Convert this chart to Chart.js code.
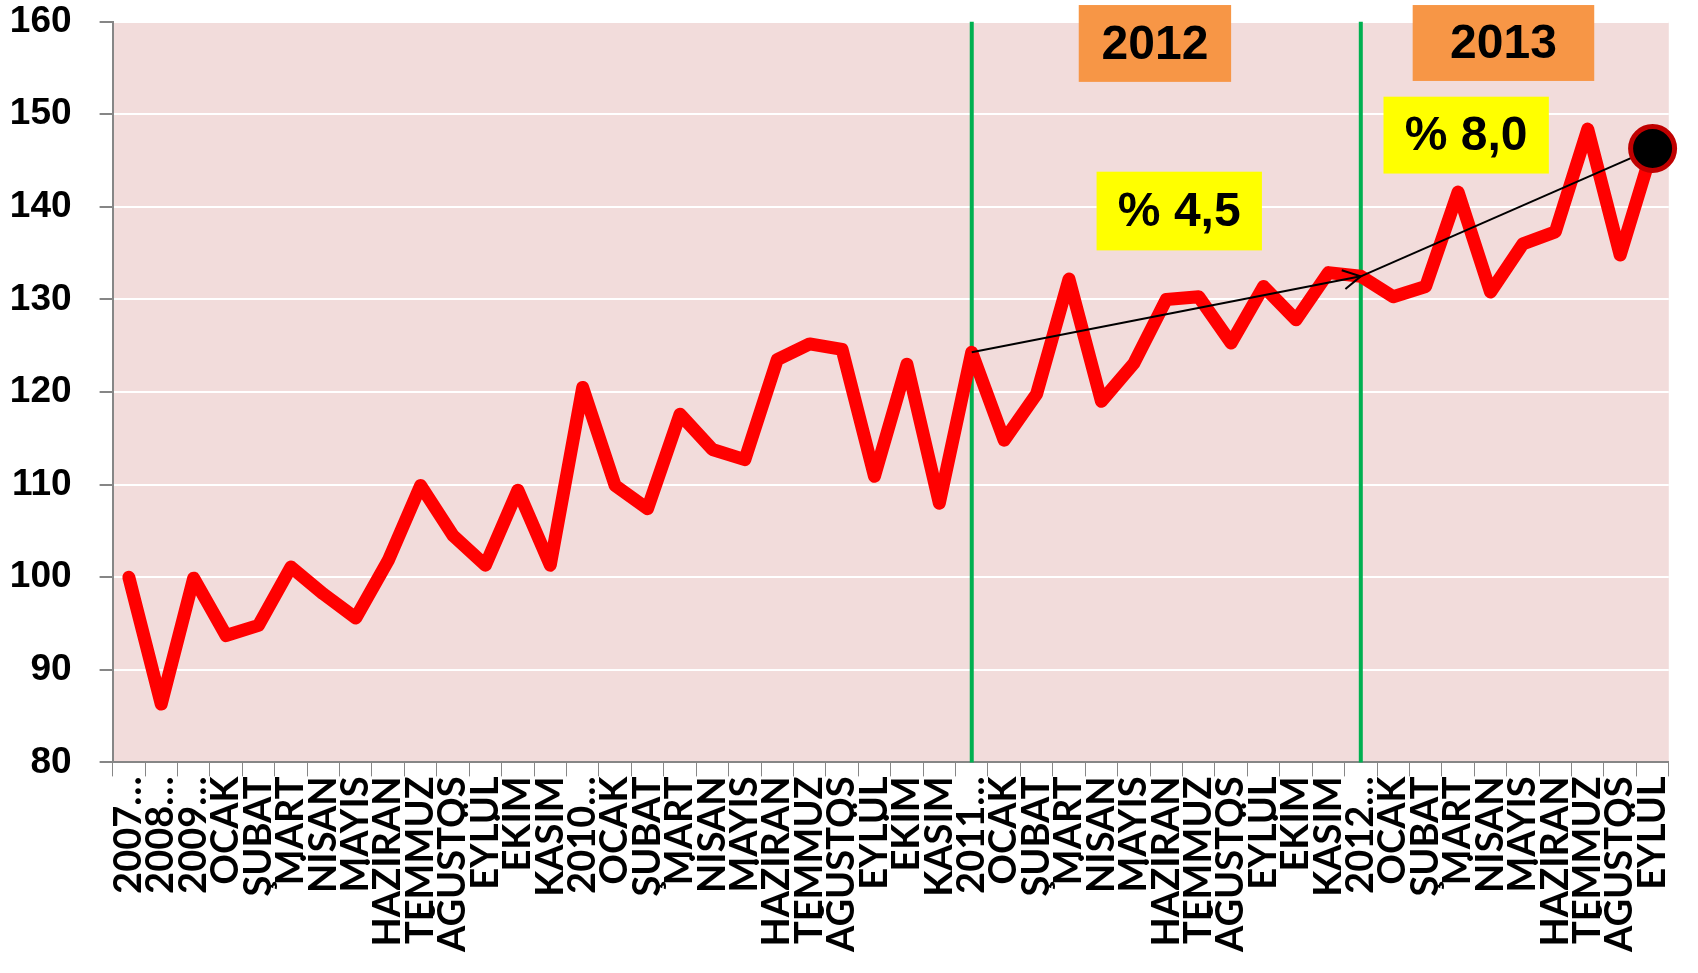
<!DOCTYPE html>
<html>
<head>
<meta charset="utf-8">
<script src="https://cdn.jsdelivr.net/npm/chart.js@4.4.0/dist/chart.umd.min.js"></script>
<style>
  html, body { margin: 0; padding: 0; background: #ffffff; }
</style>
</head>
<body>
<canvas id="endeks" width="1698" height="973"></canvas>
<script>
// kategoriler (x ekseni)
var etiketler = [
  "2007…", "2008…", "2009…",
  "OCAK", "ŞUBAT", "MART", "NİSAN", "MAYIS", "HAZİRAN", "TEMMUZ", "AĞUSTOS", "EYLÜL", "EKİM", "KASIM",
  "2010…",
  "OCAK", "ŞUBAT", "MART", "NİSAN", "MAYIS", "HAZİRAN", "TEMMUZ", "AĞUSTOS", "EYLÜL", "EKİM", "KASIM",
  "2011…",
  "OCAK", "ŞUBAT", "MART", "NİSAN", "MAYIS", "HAZİRAN", "TEMMUZ", "AĞUSTOS", "EYLÜL", "EKİM", "KASIM",
  "2012…",
  "OCAK", "ŞUBAT", "MART", "NİSAN", "MAYIS", "HAZİRAN", "TEMMUZ", "AĞUSTOS", "EYLÜL"
];

// endeks degerleri
var degerler = [
  100.0, 86.3, 99.9,
  93.7, 94.8, 101.1, 98.2, 95.6, 101.8, 109.9, 104.5, 101.3, 109.4, 101.3,
  120.5,
  109.9, 107.4, 117.6, 113.8, 112.7, 123.5, 125.2, 124.6, 110.9, 123.0, 108.0,
  124.3,
  114.8, 119.8, 132.2, 119.0, 123.1, 130.0, 130.3, 125.3, 131.4, 127.8, 132.9,
  132.5,
  130.3, 131.4, 141.6, 130.8, 136.0, 137.3, 148.4, 134.8, 146.3
];

var yTikleri = [80, 90, 100, 110, 120, 130, 140, 150, 160];

// yil ayraclari (yesil cizgiler) ve artis oklari
var ayracIndeksleri = [26, 38];
var okBaslangic = [26, 38];
var okBitis = [38, 47];

var yilKutulari = ["2012", "2013"];
var oranKutulari = ["% 4,5", "% 8,0"];

var sonNokta = degerler.map(function (v, i) { return i === degerler.length - 1 ? v : null; });

var arkaPlan = {
  id: "arkaPlan",
  beforeDraw: function (chart) {
    var ca = chart.chartArea, ctx = chart.ctx;
    ctx.save();
    ctx.fillStyle = "#F2DCDB";
    ctx.fillRect(ca.left, ca.top, ca.right - ca.left, ca.bottom - ca.top);
    ctx.restore();
  },
  beforeDatasetsDraw: function (chart) {
    var ca = chart.chartArea, ctx = chart.ctx, x = chart.scales.x;
    ctx.save();
    ctx.strokeStyle = "#00B050";
    ctx.lineWidth = 4;
    ayracIndeksleri.forEach(function (i) {
      var px = x.getPixelForValue(i);
      ctx.beginPath();
      ctx.moveTo(px, ca.top);
      ctx.lineTo(px, ca.bottom);
      ctx.stroke();
    });
    ctx.restore();
  },
  afterDatasetDraw: function (chart, args) {
    if (args.index !== 1) return;
    var ctx = chart.ctx, x = chart.scales.x, y = chart.scales.y;
    ctx.save();
    ctx.strokeStyle = "#000000";
    ctx.lineWidth = 2;
    for (var k = 0; k < okBaslangic.length; k++) {
      var x1 = x.getPixelForValue(okBaslangic[k]), y1 = y.getPixelForValue(degerler[okBaslangic[k]]);
      var x2 = x.getPixelForValue(okBitis[k]), y2 = y.getPixelForValue(degerler[okBitis[k]]);
      ctx.beginPath();
      ctx.moveTo(x1, y1);
      ctx.lineTo(x2, y2);
      ctx.stroke();
      // acik ok ucu
      var a = Math.atan2(y2 - y1, x2 - x1);
      ctx.beginPath();
      ctx.moveTo(x2 - 20 * Math.cos(a - 0.5), y2 - 20 * Math.sin(a - 0.5));
      ctx.lineTo(x2, y2);
      ctx.lineTo(x2 - 20 * Math.cos(a + 0.5), y2 - 20 * Math.sin(a + 0.5));
      ctx.stroke();
    }
    ctx.restore();
  },
  afterDraw: function (chart) {
    var ctx = chart.ctx, x = chart.scales.x, y = chart.scales.y;
    function kutu(metin, i1, i2, v1, v2, renk) {
      var l = x.getPixelForValue(i1), r = x.getPixelForValue(i2);
      var t = y.getPixelForValue(v1), b = y.getPixelForValue(v2);
      ctx.fillStyle = renk;
      ctx.fillRect(l, t, r - l, b - t);
      ctx.fillStyle = "#000000";
      ctx.font = "bold 48px 'Liberation Sans', Arial, sans-serif";
      ctx.textAlign = "center";
      ctx.textBaseline = "middle";
      ctx.fillText(metin, (l + r) / 2, (t + b) / 2 + 2);
    }
    ctx.save();
    kutu(yilKutulari[0], 29.3, 34.0, 161.8, 153.5, "#F79646");
    kutu(yilKutulari[1], 39.6, 45.2, 161.8, 153.6, "#F79646");
    kutu(oranKutulari[0], 29.85, 34.95, 143.8, 135.3, "#FFFF00");
    kutu(oranKutulari[1], 38.7, 43.8, 151.9, 143.6, "#FFFF00");
    ctx.restore();
  }
};

var ctx = document.getElementById("endeks");

var grafik = new Chart(ctx, {
  type: "line",
  data: {
    labels: etiketler,
    datasets: [
      {
        label: "Son",
        data: sonNokta,
        showLine: false,
        pointRadius: 22,
        pointBackgroundColor: "#000000",
        pointBorderColor: "#C00000",
        pointBorderWidth: 5,
        clip: false
      },
      {
        label: "Endeks",
        data: degerler,
        borderColor: "#FF0000",
        borderWidth: 13,
        borderJoinStyle: "round",
        borderCapStyle: "round",
        pointRadius: 0,
        tension: 0
      }
    ]
  },
  options: {
    responsive: false,
    animation: false,
    layout: { autoPadding: false, padding: { top: 21.7, right: 29.2, left: 0, bottom: 0 } },
    plugins: { legend: { display: false }, tooltip: { enabled: false } },
    scales: {
      x: {
        offset: true,
        grid: { offset: true, drawOnChartArea: false, color: "#868686", tickLength: 14 },
        border: { color: "#868686", width: 2 },
        ticks: {
          autoSkip: false,
          maxRotation: 90,
          minRotation: 90,
          padding: 0,
          color: "#000000",
          font: { family: "Lato", weight: "bold", size: 38 }
        },
        afterFit: function (s) {
          s.height = 210.6;
          s.paddingLeft = 0; s.paddingRight = 0; s.paddingTop = 0; s.paddingBottom = 0;
        }
      },
      y: {
        min: 80,
        max: 160,
        afterBuildTicks: function (s) { s.ticks = yTikleri.map(function (v) { return { value: v }; }); },
        grid: { color: "#FFFFFF", lineWidth: 2, tickColor: "#868686", tickLength: 13 },
        border: { color: "#868686", width: 2 },
        ticks: {
          padding: 28,
          color: "#000000",
          font: { family: "'Liberation Sans', Arial, sans-serif", weight: "bold", size: 37 }
        },
        afterFit: function (s) {
          s.width = 112.6;
          s.paddingLeft = 0; s.paddingRight = 0; s.paddingTop = 0; s.paddingBottom = 0;
        }
      }
    }
  },
  plugins: [arkaPlan]
});
</script>
</body>
</html>
